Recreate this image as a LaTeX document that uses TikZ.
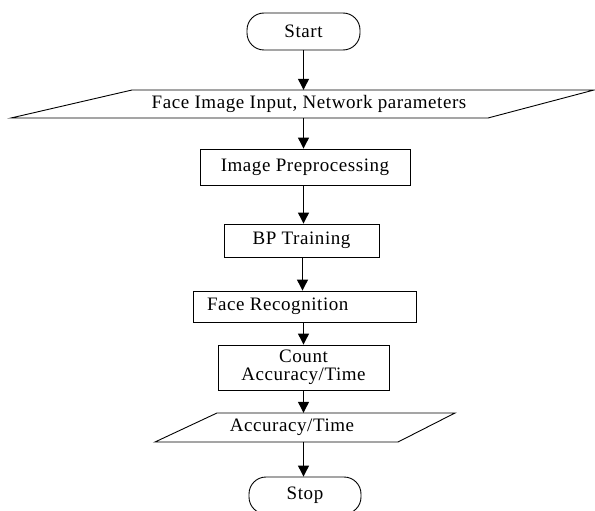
\documentclass[tikz,border=0pt]{standalone}
\usepackage{fontspec}
\setmainfont{Liberation Serif}[LetterSpace=3]
\usetikzlibrary{arrows.meta}
\begin{document}
\begin{tikzpicture}[x=1pt,y=1pt,
  every node/.style={font=\fontsize{19}{20}\selectfont, inner sep=0pt},
  boxstyle/.style={draw=black, line width=0.9pt, rectangle},
  termstyle/.style={draw=black, line width=0.9pt, rectangle, rounded corners=17pt},
  iostyle/.style={draw=black, line width=0.9pt, line join=miter},
  arr/.style={draw=black, line width=1.2pt, -{Triangle[length=11pt,width=11pt]}}
]
\useasboundingbox (0,0) rectangle (595,-511);
\fill[white] (0,0) rectangle (595,-511);

% Start
\node[termstyle, minimum width=113pt, minimum height=37pt] (start) at (303.5,-31.5) {Start};

% Input parallelogram
\coordinate (p1a) at (11,-118);
\coordinate (p1b) at (488,-118);
\coordinate (p1c) at (594,-90);
\coordinate (p1d) at (132,-90);
\draw[iostyle] (p1a) -- (p1b) -- (p1c) -- (p1d) -- cycle;
\node[minimum height=28pt] (in1) at (309,-104) {Face Image Input, Network parameters};

% Image preprocessing
\node[boxstyle, minimum width=210pt, minimum height=36pt] (prep) at (305,-167) {Image Preprocessing};

% BP training
\node[boxstyle, minimum width=155pt, minimum height=33pt] (bp) at (301.5,-240.5) {BP Training};

% Face recognition
\node[boxstyle, minimum width=223pt, minimum height=31pt] (fr) at (304.5,-306.5) {\makebox[195pt][l]{Face Recognition}};

% Count
\node[boxstyle, minimum width=171pt, minimum height=45pt, align=center] (count) at (303.5,-367.5) {Count\\[-2pt]Accuracy/Time};

% Output parallelogram
\coordinate (p2a) at (155,-442);
\coordinate (p2b) at (398,-442);
\coordinate (p2c) at (455,-413);
\coordinate (p2d) at (217,-413);
\draw[iostyle] (p2a) -- (p2b) -- (p2c) -- (p2d) -- cycle;
\node[minimum height=29pt] (out) at (292,-427.5) {Accuracy/Time};

% Stop
\node[termstyle, minimum width=112pt, minimum height=37pt] (stop) at (305,-495.5) {Stop};

% Connectors
\coordinate (x1) at (303.5,0);
\coordinate (x2) at (302.5,0);
\coordinate (x3) at (303.5,0);
\draw[arr] (start.south) -- (start.south |- in1.north);
\draw[arr] (in1.south -| x1) -- (prep.north -| x1);
\draw[arr] (prep.south -| x1) -- (bp.north -| x1);
\draw[arr] (bp.south -| x2) -- (fr.north -| x2);
\draw[arr] (fr.south -| x3) -- (count.north -| x3);
\draw[arr] (count.south -| x3) -- (out.north -| x3);
\draw[arr] (out.south -| x3) -- (stop.north -| x3);
\end{tikzpicture}
\end{document}
